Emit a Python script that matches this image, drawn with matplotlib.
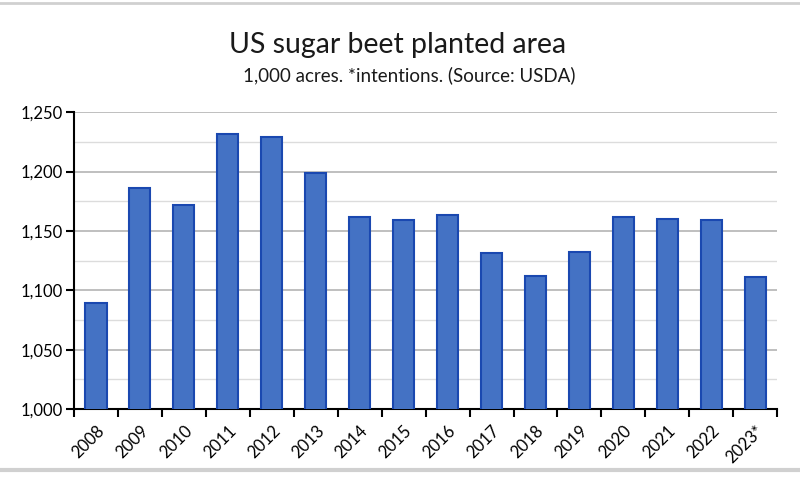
import matplotlib
matplotlib.use('Agg')
import matplotlib.pyplot as plt
from matplotlib.ticker import FuncFormatter, MultipleLocator

years = ['2008', '2009', '2010', '2011', '2012', '2013', '2014', '2015',
         '2016', '2017', '2018', '2019', '2020', '2021', '2022', '2023*']
area = [1089, 1186, 1172, 1232, 1229, 1199, 1162, 1159,
        1163, 1131, 1112, 1132, 1162, 1160, 1159, 1111]

plt.rcParams['font.family'] = ['Lato', 'DejaVu Sans']

fig = plt.figure(figsize=(8, 4.94), dpi=100)
ax = fig.add_axes([0.0925, 0.172, 0.879, 0.601])

x = list(range(len(years)))
ax.bar(x, area, width=0.48, color='#4472C4', edgecolor='#1a48b0',
       linewidth=1.5, zorder=3)

ax.set_ylim(1000, 1250)
ax.set_xlim(-0.5, len(years) - 0.5)
ax.yaxis.set_major_locator(MultipleLocator(50))
ax.yaxis.set_minor_locator(MultipleLocator(25))
ax.yaxis.set_major_formatter(FuncFormatter(lambda v, p: f'{int(v):,}'))
ax.grid(axis='y', which='major', color='#b4b4b4', linewidth=1.2, zorder=0)
ax.grid(axis='y', which='minor', color='#dcdcdc', linewidth=1.0, zorder=0)

ax.set_xticks(x)
ax.set_xticklabels(years, rotation=45, ha='right', rotation_mode='anchor')
ax.set_xticks([i - 0.5 for i in range(len(years) + 1)], minor=True)
ax.tick_params(axis='x', which='major', length=0, pad=10, labelsize=12)
ax.tick_params(axis='x', which='minor', length=6, width=1.5, direction='out')
ax.tick_params(axis='y', which='major', length=6, width=1.5, labelsize=12, pad=2)
ax.tick_params(axis='y', which='minor', length=0)

for s in ['top', 'right']:
    ax.spines[s].set_visible(False)
for s in ['left', 'bottom']:
    ax.spines[s].set_linewidth(1.5)
    ax.spines[s].set_color('black')

fig.text(0.497, 0.908, 'US sugar beet planted area', ha='center', va='center',
         fontsize=20.5, color='#1a1a1a')
fig.text(0.511, 0.848, '1,000 acres. *intentions. (Source: USDA)', ha='center',
         va='center', fontsize=13.5, color='#1a1a1a')

# light frame lines of the original screenshot
fig.add_artist(plt.Line2D([0, 1], [0.993, 0.993], color='#d0d0d0', linewidth=2,
                          transform=fig.transFigure))
fig.add_artist(plt.Line2D([0, 1], [0.048, 0.048], color='#d0d0d0', linewidth=3,
                          transform=fig.transFigure))

fig.savefig('out.png', dpi=100)
